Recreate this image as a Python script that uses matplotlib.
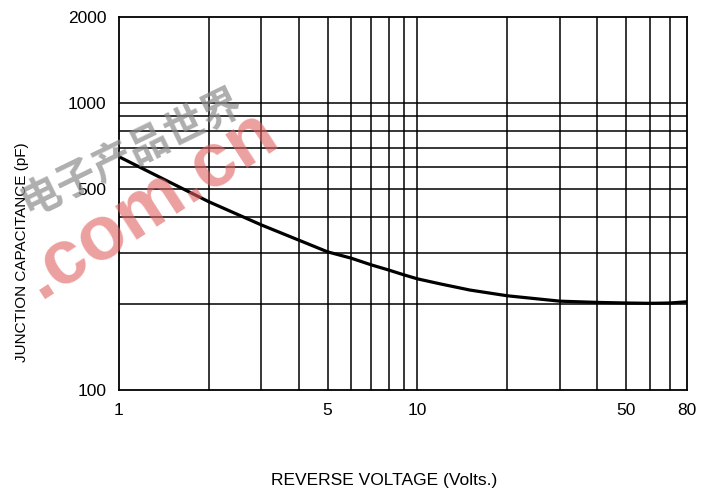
import matplotlib
matplotlib.use("Agg")
import matplotlib.pyplot as plt
from matplotlib.ticker import FixedLocator, NullFormatter

plt.rcParams['font.family'] = ['Liberation Sans', 'DejaVu Sans']

# reverse voltage (V) vs junction capacitance (pF)
volts = [1, 1.5, 2, 3, 4, 5, 6, 7, 8, 9, 10, 12, 15, 20, 25, 30, 40, 50,
         60, 70, 80]
cap_pf = [650, 526, 453, 376, 333, 303, 288, 273, 262, 252, 244, 234, 223,
          213, 208, 204, 202, 201, 200.5, 201, 203]

x_ticks = [1, 5, 10, 50, 80]
x_ticklabels = ["1", "5", "10", "50", "80"]
x_grid = [2, 3, 4, 5, 6, 7, 8, 9, 10, 20, 30, 40, 50, 60, 70]
y_ticks = [100, 500, 1000, 2000]
y_ticklabels = ["100", "500", "1000", "2000"]
y_grid = [200, 300, 400, 500, 600, 700, 800, 900, 1000]

fig = plt.figure(figsize=(7.1, 4.95), dpi=100)
ax = fig.add_axes([0.1676, 0.2121, 0.8, 0.7542])

ax.set_xscale("log")
ax.set_yscale("log")
ax.set_xlim(1, 80)
ax.set_ylim(100, 2000)

for xv in x_grid:
    ax.axvline(xv, color="black", lw=1.1, zorder=1)
for yv in y_grid:
    ax.axhline(yv, color="black", lw=1.1, zorder=1)

ax.plot(volts, cap_pf, color="black", lw=2.3, zorder=3)

ax.xaxis.set_major_locator(FixedLocator(x_ticks))
ax.xaxis.set_minor_locator(FixedLocator([]))
ax.set_xticklabels(x_ticklabels)
ax.xaxis.set_minor_formatter(NullFormatter())
ax.yaxis.set_major_locator(FixedLocator(y_ticks))
ax.yaxis.set_minor_locator(FixedLocator([]))
ax.set_yticklabels(y_ticklabels)
ax.yaxis.set_minor_formatter(NullFormatter())
ax.tick_params(length=0, labelsize=12.5, pad=9)

for s in ax.spines.values():
    s.set_linewidth(1.3)

# axis titles sit off-centre from the plot box
fig.text(0.541, 0.03, "REVERSE VOLTAGE (Volts.)", fontsize=12.5,
         ha="center", va="center")
fig.text(0.031, 0.491, "JUNCTION CAPACITANCE (pF)", fontsize=11,
         rotation=90, ha="center", va="center")

# site watermark
fig.text(0.185, 0.693, "电子产品世界", family=['Noto Sans CJK SC', 'DejaVu Sans'],
         fontsize=29, fontweight="bold", color="#8c8c8c", alpha=0.7,
         rotation=26, ha="center", va="center", zorder=5)
fig.text(0.212, 0.588, ".com.cn", fontsize=55, fontweight="bold",
         color="#e06060", alpha=0.6, rotation=33, ha="center", va="center",
         zorder=5)

fig.savefig("out.png", dpi=100)
